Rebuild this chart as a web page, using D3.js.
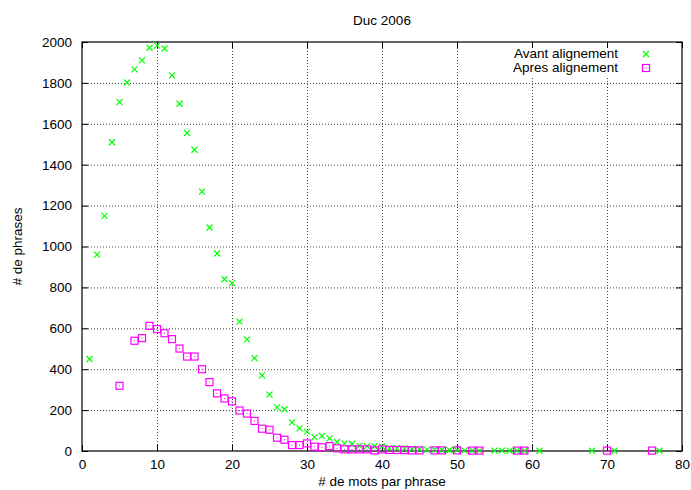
<!DOCTYPE html>
<html>
<head>
<meta charset="utf-8">
<script src="https://cdn.jsdelivr.net/npm/d3@7"></script>
<style>
  body { margin: 0; background: #fff; }
  svg { display: block; font-family: "Liberation Sans", Arial, sans-serif; }
  .lbl { font-size: 13.5px; fill: #000; }
</style>
</head>
<body>
<svg id="chart" width="691" height="490"></svg>
<script>
// Avant alignement (green crosses)
var motsAvant = [1,2,3,4,5,6,7,8,9,10,11,12,13,14,15,16,17,18,19,20,21,22,23,24,25,26,27,28,29,30,
  31,32,33,34,35,36,37,38,39,40,41,42,43,44,45,46,47,48,49,50,51,52,53,55,56,57,58,59,61,68,71,77];
var phrasesAvant = [450,960,1150,1510,1706,1802,1866,1910,1972,1982,1968,1837,1698,1555,1473,1268,1093,966,840,821,
  633,546,454,370,276,213,204,140,111,95,68,74,62,44,37,34,25,24,23,22,15,14,12,10,9,7,6,5,5,4,3,3,2,2,2,2,1,1,1,1,1,1];

// Apres alignement (magenta squares)
var motsApres = [5,7,8,9,10,11,12,13,14,15,16,17,18,19,20,21,22,23,24,25,26,27,28,29,30,
  31,32,33,34,35,36,37,38,39,40,41,42,43,44,45,47,48,50,52,53,58,59,70,76];
var phrasesApres = [319,539,552,612,596,576,547,501,462,462,400,337,282,257,243,198,183,147,109,104,65,55,29,29,37,
  21,18,24,13,8,8,8,8,3,8,5,5,5,3,3,3,3,3,2,2,2,2,2,2];

var xTicks = [0,10,20,30,40,50,60,70,80];
var yTicks = [0,200,400,600,800,1000,1200,1400,1600,1800,2000];

var svg = d3.select('#chart');
var L = 82, R = 682, T = 42, B = 451;

var x = d3.scaleLinear().domain([0, 80]).range([L, R]);
var y = d3.scaleLinear().domain([0, 2000]).range([B, T]);

// grid
var grid = svg.append('g').attr('stroke', '#444').attr('stroke-width', 1).attr('stroke-dasharray', '1,2');
grid.selectAll('.gx').data(xTicks.slice(1, -1)).enter().append('line')
  .attr('x1', function(d){ return x(d) + 0.5; }).attr('x2', function(d){ return x(d) + 0.5; })
  .attr('y1', T).attr('y2', B);
grid.selectAll('.gy').data(yTicks.slice(1, -1)).enter().append('line')
  .attr('y1', function(d){ return y(d) + 0.5; }).attr('y2', function(d){ return y(d) + 0.5; })
  .attr('x1', L).attr('x2', R);

// key background hides grid
svg.append('rect').attr('x', 505).attr('y', 46).attr('width', 160).attr('height', 30).attr('fill', '#fff');

// axes with inward ticks
var fmt = d3.format('d');
var xAxis = svg.append('g').attr('transform', 'translate(0,' + B + ')')
  .call(d3.axisBottom(x).tickValues(xTicks).tickFormat(fmt).tickSizeInner(-6).tickSizeOuter(0).tickPadding(8));
var yAxis = svg.append('g').attr('transform', 'translate(' + L + ',0)')
  .call(d3.axisLeft(y).tickValues(yTicks).tickFormat(fmt).tickSizeInner(-6).tickSizeOuter(0).tickPadding(10));
var xTop = svg.append('g').attr('transform', 'translate(0,' + T + ')')
  .call(d3.axisTop(x).tickValues(xTicks).tickSizeInner(-6).tickSizeOuter(0).tickFormat(''));
var yRight = svg.append('g').attr('transform', 'translate(' + R + ',0)')
  .call(d3.axisRight(y).tickValues(yTicks).tickSizeInner(-6).tickSizeOuter(0).tickFormat(''));
[xAxis, yAxis, xTop, yRight].forEach(function(a){
  a.select('.domain').remove();
  a.selectAll('line').attr('stroke', '#000');
  a.selectAll('text').attr('class', 'lbl').attr('font-size', null).attr('font-family', null).attr('fill', '#000');
});

// border
svg.append('rect').attr('x', L).attr('y', T).attr('width', R - L).attr('height', B - T)
  .attr('fill', 'none').attr('stroke', '#000').attr('stroke-width', 1.2);

// marks
function cross(g, cx, cy) {
  g.append('path').attr('d', 'M' + (cx-3) + ',' + (cy-3) + 'L' + (cx+3) + ',' + (cy+3) + 'M' + (cx-3) + ',' + (cy+3) + 'L' + (cx+3) + ',' + (cy-3))
    .attr('stroke', '#00ff00').attr('stroke-width', 1.2).attr('fill', 'none');
}
function square(g, cx, cy) {
  g.append('rect').attr('x', cx - 3.5).attr('y', cy - 3.5).attr('width', 7).attr('height', 7)
    .attr('fill', 'none').attr('stroke', '#ff00ff').attr('stroke-width', 1.2);
  g.append('rect').attr('x', cx - 0.5).attr('y', cy - 0.5).attr('width', 1).attr('height', 1).attr('fill', '#ff00ff');
}

var gA = svg.append('g');
motsAvant.forEach(function(m, i){ cross(gA, x(m), y(phrasesAvant[i])); });
var gB = svg.append('g');
motsApres.forEach(function(m, i){ square(gB, x(m), y(phrasesApres[i])); });

// legend
svg.append('text').attr('class', 'lbl').attr('x', 618).attr('y', 58).attr('text-anchor', 'end').text('Avant alignement');
svg.append('text').attr('class', 'lbl').attr('x', 618).attr('y', 72).attr('text-anchor', 'end').text('Apres alignement');
cross(svg, 646, 54);
square(svg, 646, 68);

// titles
svg.append('text').attr('class', 'lbl').attr('x', (L + R) / 2).attr('y', 25).attr('text-anchor', 'middle').text('Duc 2006');
svg.append('text').attr('class', 'lbl').attr('x', (L + R) / 2).attr('y', 486).attr('text-anchor', 'middle').text('# de mots par phrase');
svg.append('text').attr('class', 'lbl').attr('transform', 'translate(22,' + ((T + B) / 2) + ') rotate(-90)')
  .attr('text-anchor', 'middle').text('# de phrases');
</script>
</body>
</html>
